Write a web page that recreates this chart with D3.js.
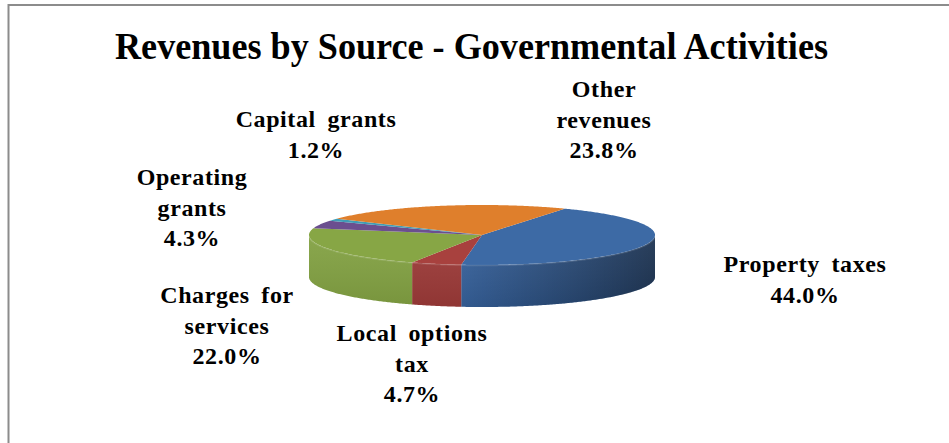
<!DOCTYPE html>
<html>
<head>
<meta charset="utf-8">
<script src="https://cdn.jsdelivr.net/npm/d3@7"></script>
<style>
  html, body { margin: 0; padding: 0; background: #fff; }
  svg { display: block; }
  text { font-family: "Liberation Serif", "Times New Roman", serif; font-weight: bold; fill: #000; }
</style>
</head>
<body>
<svg id="chart" width="949" height="443"></svg>
<script>
// Revenue sources, in the order they run clockwise round the pie
const categories = ["Property taxes", "Local options tax", "Charges for services", "Operating grants", "Capital grants", "Other revenues"];
const values = [44.0, 4.7, 22.0, 4.3, 1.2, 23.8];
// Label lines (category text as wrapped in each label box)
const labelLines = [
  ["Property taxes"],
  ["Local options", "tax"],
  ["Charges for", "services"],
  ["Operating", "grants"],
  ["Capital grants"],
  ["Other", "revenues"]
];
const title = "Revenues by Source - Governmental Activities";

// Slice styles: top face colour and side wall colour
const topColors  = ["#3d6aa5", "#a8413e", "#87a645", "#6b4f8f", "#3f9db6", "#df7f2c"];
const sideColors = ["#36619b", "#9c3a38", "#82a142", "#60457f", "#37899f", "#c96f24"];

// Label box anchors (centre x, first baseline y)
const labelPos = [
  [805, 272], [412, 341], [227, 303], [192, 185], [316, 127], [604, 97]
];

const svg = d3.select("#chart");
const W = 949, H = 443;

// Chart area frame (top and left edges show)
svg.append("path")
  .attr("d", `M8.5,${H + 2} V5 H${W + 2}`)
  .attr("fill", "none")
  .attr("stroke", "#8c8c8c")
  .attr("stroke-width", 2);

// Title
svg.append("text")
  .attr("x", 471.5).attr("y", 59)
  .attr("text-anchor", "middle")
  .style("font-size", "38px")
  .attr("textLength", 713)
  .attr("lengthAdjust", "spacingAndGlyphs")
  .text(title);

// 3-D pie geometry
const cx = 482, cy = 235, rx = 173, ry = 30, depth = 42;
const startDeg = 28.5;
const start = startDeg * Math.PI / 180;

const pie = d3.pie().sort(null).value(d => d)
  .startAngle(start).endAngle(start + 2 * Math.PI);
const arcs = pie(values);

const px = a => cx + rx * Math.sin(a);
const py = a => cy - ry * Math.cos(a);

function rimPoints(a0, a1, dy) {
  const n = Math.max(2, Math.ceil(Math.abs(a1 - a0) / 0.01));
  return d3.range(n + 1).map(i => {
    const a = a0 + (a1 - a0) * i / n;
    return [px(a), py(a) + dy];
  });
}

const defs = svg.append("defs");
const shade = defs.append("linearGradient")
  .attr("id", "sideShade")
  .attr("gradientUnits", "userSpaceOnUse")
  .attr("x1", cx - 20).attr("y1", 0).attr("x2", cx + rx).attr("y2", 0);
shade.append("stop").attr("offset", 0).attr("stop-color", "#000").attr("stop-opacity", 0);
shade.append("stop").attr("offset", 0.55).attr("stop-color", "#000").attr("stop-opacity", 0.25);
shade.append("stop").attr("offset", 1).attr("stop-color", "#000").attr("stop-opacity", 0.48);

const vertShade = defs.append("linearGradient")
  .attr("id", "sideVert")
  .attr("x1", 0).attr("y1", 0).attr("x2", 0).attr("y2", 1);
vertShade.append("stop").attr("offset", 0).attr("stop-color", "#fff").attr("stop-opacity", 0.06);
vertShade.append("stop").attr("offset", 1).attr("stop-color", "#000").attr("stop-opacity", 0.08);

const line = d3.line();
const pieG = svg.append("g");

// Side walls: only the front half (pi/2 .. 3pi/2) is visible
const frontLo = Math.PI / 2, frontHi = 3 * Math.PI / 2;
const sides = pieG.append("g");
arcs.forEach((d, i) => {
  const a0 = Math.max(d.startAngle, frontLo);
  const a1 = Math.min(d.endAngle, frontHi);
  if (a1 <= a0) return;
  const pts = rimPoints(a0, a1, 0).concat(rimPoints(a1, a0, depth));
  sides.append("path")
    .attr("d", line(pts) + "Z")
    .attr("fill", sideColors[i]);
});
// Lighting across the whole wall
const wall = rimPoints(frontLo, frontHi, 0).concat(rimPoints(frontHi, frontLo, depth));
sides.append("path").attr("d", line(wall) + "Z").attr("fill", "url(#sideShade)");
sides.append("path").attr("d", line(wall) + "Z").attr("fill", "url(#sideVert)");

// Top faces
arcs.forEach((d, i) => {
  const pts = [[cx, cy]].concat(rimPoints(d.startAngle, d.endAngle, 0));
  pieG.append("path")
    .attr("d", line(pts) + "Z")
    .attr("fill", topColors[i]);
});

// Slight rim highlight where top meets wall
pieG.append("path")
  .attr("d", line(rimPoints(frontLo, frontHi, 0.5)))
  .attr("fill", "none")
  .attr("stroke", "#fff")
  .attr("stroke-opacity", 0.12)
  .attr("stroke-width", 1.5);

// Data labels: category lines then percentage
const fmt = d3.format(".1%");
const lineH = 30.5;
const labels = svg.append("g");
categories.forEach((c, i) => {
  const [lx, ly] = labelPos[i];
  const lines = labelLines[i].concat([fmt(values[i] / 100)]);
  const t = labels.append("text")
    .attr("text-anchor", "middle")
    .style("font-size", "24px")
    .style("letter-spacing", "0.6px")
    .style("word-spacing", "5px");
  lines.forEach((s, k) => {
    t.append("tspan").attr("x", lx).attr("y", ly + k * lineH).text(s);
  });
});
</script>
</body>
</html>
